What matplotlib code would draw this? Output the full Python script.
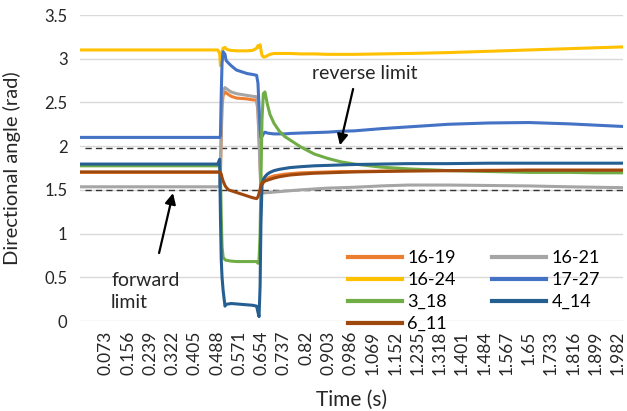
import matplotlib
matplotlib.use("Agg")
import matplotlib.pyplot as plt

plt.rcParams['font.family'] = ['Lato', 'DejaVu Sans']

# time base shared by all series (s)
time_s = [-0.024, 0.49, 0.497, 0.500, 0.503, 0.506, 0.510, 0.517, 0.521, 0.530,
          0.540, 0.560, 0.580, 0.600, 0.620, 0.635, 0.640, 0.644, 0.648, 0.651,
          0.655, 0.660, 0.666, 0.675, 0.685, 0.700, 0.720, 0.740, 0.760, 0.800,
          0.850, 0.900, 0.950, 1.000, 1.100, 1.200, 1.350, 1.500, 1.650, 1.800,
          1.900, 2.002]

# directional angles (rad)
a_16_19 = [1.70, 1.70, 1.70, 1.72, 2.10, 2.45, 2.58, 2.62, 2.61, 2.59,
           2.57, 2.55, 2.545, 2.54, 2.53, 2.525, 2.40, 2.10, 1.80, 1.60,
           1.56, 1.58, 1.61, 1.63, 1.645, 1.66, 1.67, 1.68, 1.685, 1.695,
           1.70, 1.705, 1.71, 1.71, 1.715, 1.72, 1.72, 1.725, 1.725, 1.725,
           1.725, 1.725]
a_16_21 = [1.535, 1.535, 1.54, 1.70, 2.20, 2.55, 2.64, 2.67, 2.66, 2.64,
           2.62, 2.60, 2.59, 2.58, 2.57, 2.565, 2.40, 2.05, 1.70, 1.52,
           1.47, 1.465, 1.465, 1.47, 1.47, 1.475, 1.48, 1.485, 1.49, 1.50,
           1.51, 1.52, 1.525, 1.53, 1.545, 1.555, 1.555, 1.55, 1.545, 1.535,
           1.53, 1.525]
a_16_24 = [3.10, 3.10, 3.06, 2.92, 3.00, 3.08, 3.12, 3.13, 3.11, 3.10,
           3.095, 3.09, 3.09, 3.09, 3.095, 3.12, 3.15, 3.13, 3.16, 3.10,
           3.04, 3.02, 3.02, 3.035, 3.05, 3.06, 3.06, 3.06, 3.06, 3.055,
           3.055, 3.05, 3.05, 3.05, 3.055, 3.06, 3.07, 3.085, 3.10, 3.115,
           3.125, 3.135]
a_17_27 = [2.10, 2.10, 2.10, 2.12, 2.60, 2.95, 3.08, 3.05, 2.98, 2.95,
           2.92, 2.87, 2.85, 2.83, 2.82, 2.81, 2.72, 2.45, 2.20, 2.10,
           2.11, 2.14, 2.16, 2.15, 2.145, 2.14, 2.14, 2.14, 2.145, 2.15,
           2.155, 2.16, 2.17, 2.175, 2.20, 2.22, 2.25, 2.265, 2.27, 2.255,
           2.24, 2.225]
a_3_18 = [1.775, 1.775, 1.775, 1.70, 1.20, 0.85, 0.73, 0.70, 0.695, 0.69,
          0.685, 0.68, 0.68, 0.68, 0.68, 0.68, 0.66, 0.70, 1.00, 1.60,
          2.30, 2.60, 2.62, 2.48, 2.36, 2.26, 2.17, 2.11, 2.07, 1.99,
          1.91, 1.86, 1.82, 1.795, 1.76, 1.74, 1.72, 1.71, 1.70, 1.70,
          1.695, 1.695]
a_4_14 = [1.795, 1.795, 1.85, 1.20, 0.70, 0.50, 0.35, 0.17, 0.19, 0.195,
          0.20, 0.195, 0.19, 0.185, 0.18, 0.17, 0.10, 0.05, 0.40, 1.10,
          1.55, 1.62, 1.65, 1.68, 1.70, 1.72, 1.735, 1.745, 1.755, 1.765,
          1.775, 1.78, 1.785, 1.79, 1.795, 1.80, 1.80, 1.805, 1.805, 1.805,
          1.805, 1.805]
a_6_11 = [1.705, 1.705, 1.70, 1.70, 1.68, 1.64, 1.60, 1.55, 1.53, 1.50,
          1.49, 1.47, 1.45, 1.43, 1.41, 1.40, 1.42, 1.46, 1.51, 1.55,
          1.58, 1.59, 1.60, 1.61, 1.62, 1.635, 1.65, 1.66, 1.67, 1.68,
          1.69, 1.695, 1.70, 1.705, 1.71, 1.715, 1.72, 1.72, 1.725, 1.725,
          1.725, 1.725]

series_names = ['16-19', '16-21', '16-24', '17-27', '3_18', '4_14', '6_11']
series_data = [a_16_19, a_16_21, a_16_24, a_17_27, a_3_18, a_4_14, a_6_11]
series_colors = ['#ED7D31', '#A5A5A5', '#FFC000', '#4472C4', '#70AD47', '#255E91', '#9E480E']

reverse_limit = 1.975
forward_limit = 1.50

tick_labels = ['0.073', '0.156', '0.239', '0.322', '0.405', '0.488', '0.571', '0.654',
               '0.737', '0.82', '0.903', '0.986', '1.069', '1.152', '1.235', '1.318',
               '1.401', '1.484', '1.567', '1.65', '1.733', '1.816', '1.899', '1.982']
y_ticks = [0, 0.5, 1, 1.5, 2, 2.5, 3, 3.5]

fig = plt.figure(figsize=(6.27, 4.11), dpi=100)
ax = fig.add_axes([80 / 627, 1 - 321 / 411, 543 / 627, 306 / 411])

lines = {}
for name, vals, col in zip(series_names, series_data, series_colors):
    lines[name], = ax.plot(time_s, vals, color=col, lw=2.2, solid_joinstyle='round', label=name)

ax.axhline(reverse_limit, xmin=0.01, color='#333333', lw=1.0, ls=(0, (4.5, 3)), zorder=1.5)
ax.axhline(forward_limit, xmin=0.01, color='#333333', lw=1.0, ls=(0, (4.5, 3)), zorder=1.5)

ax.set_xlim(time_s[0], time_s[-1])
ax.set_ylim(0, 3.5)
ax.set_xticks([float(s) for s in tick_labels])
ax.set_xticklabels(tick_labels, rotation=90, fontsize=12.5, color='#262626')
ax.set_yticks(y_ticks)
ax.set_yticklabels(['{:g}'.format(v) for v in y_ticks], fontsize=12, color='#262626')
ax.tick_params(axis='x', length=0, pad=7)
ax.tick_params(axis='y', length=0, pad=9)
ax.yaxis.grid(True, color='#D9D9D9', lw=1.0)
ax.set_axisbelow(True)
for s in ax.spines.values():
    s.set_visible(False)

ax.set_ylabel('Directional angle (rad)', fontsize=14.5, color='#262626')
ax.yaxis.set_label_coords(-0.108, 0.5)
ax.set_xlabel('Time (s)', fontsize=15, color='#262626')
ax.xaxis.set_label_coords(0.5, -0.225)

arrow = dict(arrowstyle='-|>', color='black', lw=1.6, mutation_scale=16, shrinkA=0, shrinkB=0)
ax.annotate('', xy=(0.946, 2.01), xytext=(0.995, 2.654), arrowprops=arrow)
ax.text(1.039, 2.826, 'reverse limit', fontsize=14, ha='center', va='center', color='#262626')
ax.annotate('', xy=(0.323, 1.463), xytext=(0.271, 0.777), arrowprops=arrow)
ax.text(0.092, 0.34, 'forward\nlimit', fontsize=14, ha='left', va='center',
        linespacing=1.35, color='#262626')

order = ['16-19', '16-24', '3_18', '6_11', '16-21', '17-27', '4_14']
leg = ax.legend([lines[n] for n in order], order, ncol=2, loc='upper left',
                bbox_to_anchor=(0.493, 0.232), frameon=False, fontsize=13,
                handlelength=3.0, handletextpad=0.3, columnspacing=2.0,
                labelspacing=0.33, borderpad=0, borderaxespad=0)
for h in leg.get_lines():
    h.set_linewidth(3)

fig.savefig('out.png', dpi=100)
